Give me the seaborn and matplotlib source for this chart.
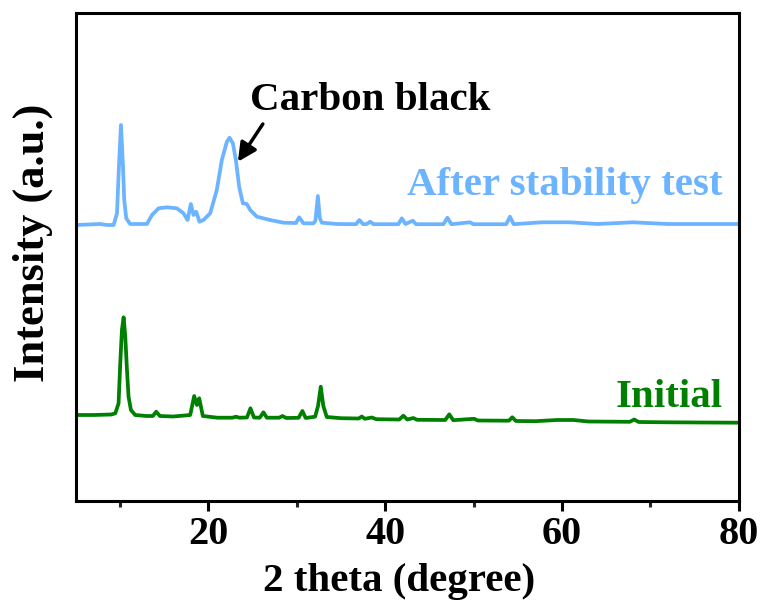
import matplotlib
matplotlib.use("Agg")
import matplotlib.pyplot as plt
import seaborn as sns
import pandas as pd

# XRD pattern of the fresh sample (2 theta in degrees, intensity in a.u.)
initial_theta = [5.0, 7.0, 9.0, 9.45, 9.82, 10.01, 10.2, 10.39, 10.58, 10.77, 10.95,
                 11.22, 11.7, 13.0, 13.7, 14.08, 14.5, 16.0, 17.93, 18.38, 18.69,
                 18.95, 19.36, 21.0, 22.7, 23.1, 23.5, 24.35, 24.75, 25.15, 25.8,
                 26.22, 26.6, 28.0, 28.37, 28.8, 30.2, 30.63, 31.0, 32.07, 32.4,
                 32.71, 33.0, 33.39, 35.0, 37.0, 37.35, 37.7, 38.48, 39.0, 41.6,
                 42.06, 42.5, 43.19, 43.6, 46.8, 47.26, 47.7, 50.06, 50.5, 54.0,
                 54.39, 54.8, 57.0, 59.45, 61.3, 63.0, 67.7, 68.19, 68.7, 72.0,
                 76.0, 80.0]
initial_int = [860, 860, 865, 877, 977, 1377, 1710, 1837, 1643, 1310, 1043,
               910, 860, 850, 850, 893, 850, 845, 860, 1050, 960,
               1027, 850, 833, 833, 843, 833, 835, 927, 835, 833,
               887, 833, 833, 850, 830, 832, 900, 830, 843, 950,
               1143, 950, 840, 828, 825, 845, 822, 835, 818, 815,
               853, 815, 830, 812, 810, 867, 808, 822, 805, 803,
               837, 800, 798, 810, 810, 795, 792, 815, 790, 787,
               785, 783]

# XRD pattern after the stability test
after_theta = [5.0, 7.75, 8.5, 9.26, 9.64, 9.86, 10.09, 10.32, 10.46, 10.69, 11.14,
               13.03, 13.6, 14.35, 15.29, 16.42, 17.17, 17.63, 18.0, 18.3, 18.6,
               18.98, 19.43, 20.19, 20.94, 21.51, 22.08, 22.38, 22.76, 23.1, 23.47,
               23.89, 24.34, 24.72, 25.48, 26.98, 28.49, 29.9, 30.26, 30.75, 31.88,
               32.1, 32.38, 32.6, 32.83, 34.52, 36.7, 37.08, 37.5, 37.92, 38.29,
               38.7, 41.5, 41.88, 42.3, 43.12, 43.5, 46.6, 47.04, 47.5, 49.6,
               50.0, 53.7, 54.13, 54.55, 57.71, 60.91, 64.0, 68.07, 72.0, 76.0,
               80.0]
after_int = [860, 870, 860, 860, 977, 1443, 1860, 1443, 1110, 927, 870,
             870, 960, 1027, 1037, 1027, 977, 910, 1070, 960, 993,
             893, 910, 977, 1210, 1510, 1693, 1733, 1677, 1510, 1243,
             1077, 1070, 1010, 943, 910, 883, 880, 937, 877, 877,
             900, 1150, 930, 883, 870, 868, 910, 868, 870, 893,
             868, 868, 927, 870, 903, 868, 868, 933, 868, 887,
             868, 868, 943, 868, 887, 887, 870, 887, 870, 870,
             870]

series_labels = ["Initial", "After stability test"]
series_colors = ["#008000", "#6CB4FF"]
stack_offset = 1900  # vertical shift of the upper pattern

serif = ["Liberation Serif", "DejaVu Serif"]
sns.set_theme(style="white")
plt.rcParams["font.family"] = serif
plt.rcParams["font.weight"] = "bold"
plt.rcParams["axes.labelweight"] = "bold"

fig = plt.figure(figsize=(7.63, 6.05), dpi=100)
ax = fig.add_axes([0.0996, 0.1719, 0.8683, 0.8066])

df_init = pd.DataFrame({"theta": initial_theta, "intensity": initial_int})
df_after = pd.DataFrame({"theta": after_theta,
                         "intensity": [v + stack_offset for v in after_int]})

sns.lineplot(data=df_init, x="theta", y="intensity", ax=ax, color=series_colors[0],
             lw=2.7, estimator=None, sort=False)
sns.lineplot(data=df_after, x="theta", y="intensity", ax=ax, color=series_colors[1],
             lw=2.7, estimator=None, sort=False)

ax.set_xlim(5, 80)
ax.set_ylim(0, 4880)
ax.set_xticks([20, 40, 60, 80])
ax.set_xticks([10, 30, 50, 70], minor=True)
ax.set_yticks([])
ax.tick_params(axis="x", which="major", direction="out", length=7.5, width=2.2,
               labelsize=29, pad=3, bottom=True, colors="black")
ax.tick_params(axis="x", which="minor", direction="out", length=4, width=2.2,
               bottom=True)
for lbl in ax.get_xticklabels():
    lbl.set_fontweight("bold")

for side in ["left", "right", "top", "bottom"]:
    ax.spines[side].set_visible(True)
    ax.spines[side].set_color("black")
    ax.spines[side].set_linewidth(2.2)

ax.set_xlabel("2 theta (degree)", fontsize=29.5, fontweight="bold", color="black")
ax.set_ylabel("Intensity (a.u.)", fontsize=32, fontweight="bold", color="black")
ax.xaxis.set_label_coords(0.4875, -0.128)
ax.yaxis.set_label_coords(-0.034, 0.53)

ax.text(78.2, 3060, series_labels[1], color=series_colors[1], fontsize=29.5,
        fontweight="bold", ha="right", va="baseline")
ax.text(78.2, 940, series_labels[0], color=series_colors[0], fontsize=29.5,
        fontweight="bold", ha="right", va="baseline")

ax.text(38.35, 3910, "Carbon black", color="black", fontsize=29.5,
        fontweight="bold", ha="center", va="baseline")
ax.annotate("", xy=(23.33, 3393), xytext=(26.15, 3770),
            arrowprops=dict(arrowstyle="-|>", color="black", lw=2.5,
                            mutation_scale=28, shrinkA=0, shrinkB=0))

fig.savefig("out.png", dpi=100)
